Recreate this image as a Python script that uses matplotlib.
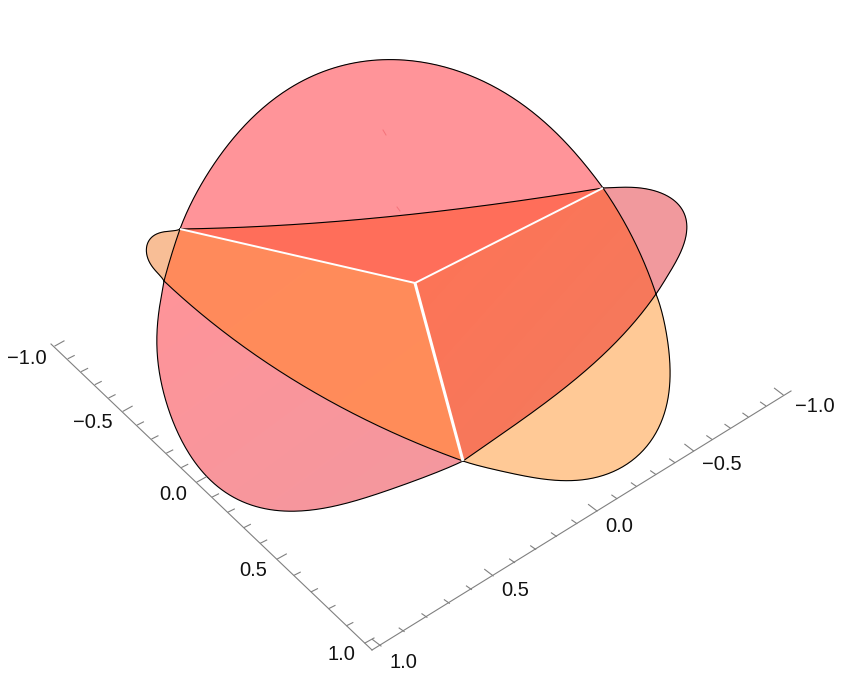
import numpy as np
import matplotlib
matplotlib.use('Agg')
import matplotlib.pyplot as plt
from matplotlib.path import Path
from matplotlib.patches import PathPatch
from matplotlib.colors import LinearSegmentedColormap

plt.rcParams['font.family'] = ['Liberation Sans', 'DejaVu Sans']

# outlines, in image pixels
A = (180, 229)
B = (603, 188)
C = (463, 461)
O = (415, 283)
L = (164, 281)
R = (656, 294)

top_arc = [A, (190, 205), (203, 182), (220, 155), (242, 128), (270, 103), (303, 80), (337, 67), (370, 61),
           (390, 59), (403, 60), (430, 64), (463, 73), (497, 88), (530, 110), (563, 140), (587, 167), B]
mid_arc = [A, (237, 226), (303, 223), (370, 219), (410, 215), (447, 210), (513, 200), (580, 192), B]
right_arc = [B, (627, 227), (643, 260), R]
right_lobe = [R, (666, 279), (674, 265), (681, 250), (686, 236), (687, 223), (683, 210), (676, 202), (667, 196),
              (654, 191), (640, 188), (621, 187), B]
low_lobe = [R, (663, 317), (668, 343), (670, 370), (667, 403), (657, 430), (637, 457), (610, 473),
            (570, 480), (537, 478), (503, 472), (483, 466), C]
front_right = [C, (510, 427), (560, 393), (593, 363), (627, 330), R]
left_lobe = [A, (170, 231), (160, 233), (152, 237), (147, 243), (146, 250), (148, 258), (152, 266), (158, 274), L]
left_arc = [A, (173, 250), L]
front_left = [L, (190, 305), (223, 332), (257, 357), (280, 371), (313, 392), (347, 410), (380, 427), (413, 443), C]
bottom_lobe = [L, (160, 303), (157, 337), (159, 370), (167, 407), (180, 437), (197, 463), (217, 487), (240, 502),
               (273, 509), (303, 511), (325, 508), (347, 503), (372, 496), (397, 487), (430, 475), C]

# axis ends and the ticks at -1, 0, 1
left_axis_ends = [(51, 344), (372, 650)]
left_axis_ticks = [(55, 347), (197, 482), (365, 643)]
right_axis_ends = [(791, 391), (372, 650)]
right_axis_ticks = [(783, 395), (597, 511), (381, 646)]
tick_values = np.round(np.arange(-1, 1.01, 0.1), 1)

left_labels = ['\u22121.0', '\u22120.5', '0.0', '0.5', '1.0']
left_label_pos = [(27, 358), (93, 423), (173, 494), (253, 570), (341, 655)]
right_labels = ['\u22121.0', '\u22120.5', '0.0', '0.5', '1.0']
right_label_pos = [(815, 407), (722, 465), (619, 526), (515, 591), (403, 663)]

slivers = [[(383, 130), (386, 135)], [(397, 207), (400, 211)]]


def smooth(pts, deg):
    # polynomial through the read points so reading errors do not make bumps, ends stay put
    pts = np.array(pts, dtype=float)
    s = np.r_[0, np.cumsum(np.hypot(*np.diff(pts, axis=0).T))]
    s = s / s[-1]
    t = np.linspace(0, 1, 200)
    out = []
    for k in range(2):
        fit = np.polyfit(s, pts[:, k], deg)
        y = np.polyval(fit, t)
        y0 = np.polyval(fit, 0) - pts[0, k]
        y1 = np.polyval(fit, 1) - pts[-1, k]
        out.append(y - (y0 + (y1 - y0) * t))
    return np.column_stack(out)


top_line = smooth(top_arc, 7)
mid_line = smooth(mid_arc, 3)
right_line = smooth(right_arc, 2)
rlobe_line = smooth(right_lobe, 6)
low_line = smooth(low_lobe, 7)
fr_line = smooth(front_right, 3)
llobe_line = smooth(left_lobe, 5)
la_line = smooth(left_arc, 2)
fl_line = smooth(front_left, 3)
bottom_line = smooth(bottom_lobe, 8)


def poly_path(parts):
    pts = np.vstack(parts)
    return Path(np.vstack([pts, pts[0]]), closed=True)


def fill(ax, parts, col, z=1):
    ax.add_patch(PathPatch(poly_path(parts), fc=col, ec=col, lw=0.4, zorder=z))


def fill_grad(ax, parts, c0, c1, box, z=1):
    # box is x0, y0, x1, y1, the gradient runs corner to corner
    cm = LinearSegmentedColormap.from_list('g', [c0, c1])
    g = np.linspace(0, 1, 60)
    im = ax.imshow(np.add.outer(g, g) / 2, cmap=cm, vmin=0, vmax=1, extent=(box[0], box[2], box[3], box[1]),
                   origin='upper', aspect='auto', zorder=z, interpolation='bilinear')
    patch = PathPatch(poly_path(parts), fc='none', ec='none', transform=ax.transData)
    ax.add_patch(patch)
    im.set_clip_path(patch)


def proj(t, p):
    # perspective along an axis, from the points at -1, 0, 1
    p = np.array(p, dtype=float)
    k = (p[2, 0] + p[0, 0] - 2 * p[1, 0]) / (p[2, 0] - p[0, 0])
    return p[1] + (p[2] - p[1]) * t * (1 - k) / (1 - k * t)


fig = plt.figure(figsize=(8.41, 6.76), dpi=100)
ax = fig.add_axes([0, 0, 1, 1])

# regions
fill(ax, [top_line, mid_line[::-1]], '#FF9499')
fill(ax, [llobe_line, la_line[::-1]], '#F8BE96')
fill(ax, [right_line, rlobe_line], '#F1999D')
fill(ax, [low_line, fr_line[::-1]], '#FFC996')
fill_grad(ax, [bottom_line, fl_line[::-1]], '#FF9499', '#F3989F', (150, 280, 470, 515))
fill(ax, [mid_line, [B], [O]], '#FF6E5A')
fill_grad(ax, [[A], [O], [C], fl_line[::-1], la_line[::-1]], '#FF8A5C', '#FF8D59', (155, 225, 470, 465))
fill_grad(ax, [[O], [B], right_line, fr_line[::-1]], '#FF7356', '#F27B5E', (410, 185, 660, 465))

# outlines
for c in [top_line, mid_line, right_line, rlobe_line, low_line, fr_line, llobe_line, la_line, fl_line, bottom_line]:
    ax.plot(c[:, 0], c[:, 1], color='black', lw=0.8, zorder=3)

# white edges
for p, w in [(A, 1.4), (B, 1.4), (C, 2.2)]:
    ax.plot([O[0], p[0]], [O[1], p[1]], color='white', lw=w, zorder=4, solid_capstyle='butt')

for s in slivers:
    ax.plot([s[0][0], s[1][0]], [s[0][1], s[1][1]], color='#F4737A', lw=0.7, zorder=2)

# axes
for ends in [left_axis_ends, right_axis_ends]:
    ax.plot([ends[0][0], ends[1][0]], [ends[0][1], ends[1][1]], color='#808080', lw=0.8, zorder=5)

for t in tick_values:
    major = abs(t * 2 - round(t * 2)) < 1e-6
    base = proj(t, left_axis_ticks)
    d = (9, -5) if major else (6, -3)
    ax.plot([base[0], base[0] + d[0]], [base[1], base[1] + d[1]], color='#808080', lw=0.8, zorder=5)
    base = proj(t, right_axis_ticks)
    d = (-8.5, -6.5) if major else (-5, -3.5)
    ax.plot([base[0], base[0] + d[0]], [base[1], base[1] + d[1]], color='#808080', lw=0.8, zorder=5)

for labels, pos in [(left_labels, left_label_pos), (right_labels, right_label_pos)]:
    for s, p in zip(labels, pos):
        ax.text(p[0], p[1], s, ha='center', va='center', fontsize=14.5, color='#111111', zorder=6)

ax.set_xlim(0, 841)
ax.set_ylim(676, 0)
ax.axis('off')
fig.savefig('out.png', dpi=100)
